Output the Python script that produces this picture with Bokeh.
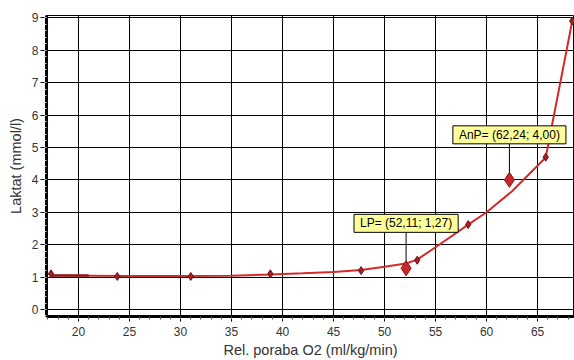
from bokeh.plotting import figure
from bokeh.models import Range1d, SingleIntervalTicker, Label
from bokeh.embed import file_html
from bokeh.resources import INLINE

# Measured samples: relative O2 uptake (ml/kg/min) and blood lactate (mmol/l)
vo2 = [17.3, 23.8, 31.0, 38.8, 47.7, 53.2, 58.2, 65.8, 68.4]
lactate = [1.10, 1.02, 1.02, 1.10, 1.20, 1.52, 2.62, 4.70, 8.90]

# Fitted lactate curve
curve_x = [17.3, 21.0, 25.0, 30.0, 35.0, 38.8, 42.0, 45.0, 47.7, 50.0, 52.1,
           53.2, 55.0, 58.2, 60.0, 62.5, 65.8, 68.4]
curve_y = [1.05, 1.04, 1.03, 1.03, 1.04, 1.08, 1.12, 1.16, 1.22, 1.32, 1.42,
           1.54, 1.92, 2.62, 3.00, 3.65, 4.69, 8.90]

# Short baseline segment at the start of the curve
base_x = [17.3, 21.0]
base_y = [1.05, 1.05]

# Thresholds: lactate point and anaerobic point
thr_names = ["LP", "AnP"]
thr_x = [52.11, 62.24]
thr_y = [1.27, 4.00]

X0, X1 = 16.86, 68.62
Y0, Y1 = -0.216, 9.07
W, H = 574, 360
LEFT, TOP, BOTTOM = 46, 15, 44
FRAME_H = H - TOP - BOTTOM
LEADER_PX = 36

p = figure(width=W, height=H, output_backend="svg", toolbar_location=None,
           x_range=Range1d(X0, X1), y_range=Range1d(Y0, Y1),
           min_border_left=LEFT, min_border_right=0,
           min_border_top=TOP, min_border_bottom=BOTTOM,
           background_fill_color="white", border_fill_color="white")

p.outline_line_color = "black"
p.outline_line_width = 1

p.xaxis.ticker = SingleIntervalTicker(interval=5, num_minor_ticks=5)
p.yaxis.ticker = SingleIntervalTicker(interval=1, num_minor_ticks=5)

for ax in (p.xaxis[0], p.yaxis[0]):
    ax.axis_line_color = "black"
    ax.axis_line_width = 3
    ax.major_tick_line_color = "black"
    ax.major_tick_in = 0
    ax.minor_tick_in = 0
    ax.major_label_text_font = "Liberation Sans"
    ax.major_label_text_font_size = "12px"
    ax.major_label_text_color = "#333333"
    ax.axis_label_text_font = "Liberation Sans"
    ax.axis_label_text_font_size = "14.5px"
    ax.axis_label_text_font_style = "normal"
    ax.axis_label_text_color = "#333333"

p.xaxis.major_tick_out = 5
p.xaxis.minor_tick_out = 3
p.xaxis.minor_tick_line_color = "#555555"
p.xaxis.major_label_standoff = 5
p.xaxis.axis_label_standoff = 3
p.xaxis.axis_label = "Rel. poraba O2 (ml/kg/min)"

p.yaxis.major_tick_out = 6
p.yaxis.minor_tick_out = 2
p.yaxis.minor_tick_line_color = "#cccccc"
p.yaxis.major_label_standoff = 2
p.yaxis.axis_label_standoff = 5
p.yaxis.axis_label = "Laktat (mmol/l)"

p.xgrid.grid_line_color = "black"
p.ygrid.grid_line_color = "black"
p.xgrid.grid_line_width = 1
p.ygrid.grid_line_width = 1

# Fitted curve
p.line(curve_x, curve_y, line_color="#d42a2a", line_width=2)
p.line(base_x, base_y, line_color="#8a1c1c", line_width=2.5)

# Measured samples
p.scatter(vo2, lactate, marker="diamond", size=8,
          fill_color="#a31f24", line_color="#6e1215", line_width=1)

# Threshold leaders, markers and labels
dy = LEADER_PX * (Y1 - Y0) / FRAME_H
p.segment(x0=thr_x, y0=thr_y, x1=thr_x, y1=[y + dy for y in thr_y],
          line_color="black", line_width=1)
p.scatter(thr_x, thr_y, marker="diamond", size=15,
          fill_color="#c8262b", line_color="#8a1418", line_width=1)

for name, x, y in zip(thr_names, thr_x, thr_y):
    txt = f"{name}= ({x:.2f}; {y:.2f})".replace(".", ",")
    p.add_layout(Label(x=x, y=y, y_offset=LEADER_PX, text=txt,
                       text_align="center", text_baseline="bottom",
                       text_font="Liberation Sans", text_font_size="12px",
                       text_color="black",
                       background_fill_color="#ffff99",
                       border_line_color="black", border_line_width=1,
                       padding=dict(left=6, right=6, top=2, bottom=2)))

open("out.html", "w").write(file_html(p, INLINE))
